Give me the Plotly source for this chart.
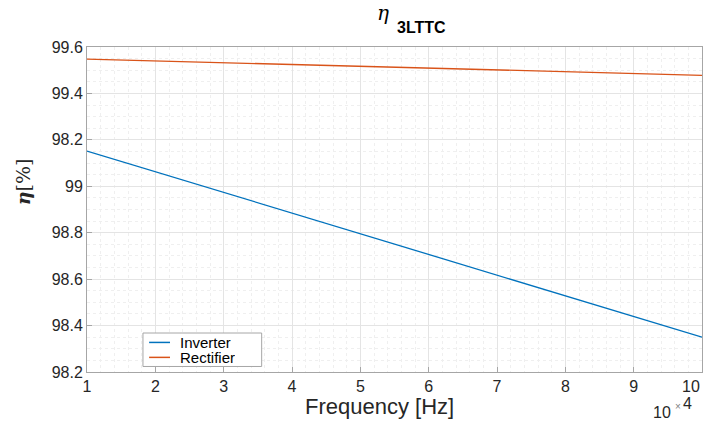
import plotly.graph_objects as go

# Switching frequency [Hz]
freq = [10000, 20000, 30000, 40000, 50000, 60000, 70000, 80000, 90000, 100000]
# Efficiency [%]
inverter = [99.152, 99.063, 98.974, 98.885, 98.796, 98.707, 98.618, 98.529, 98.440, 98.350]
rectifier = [99.548, 99.540, 99.532, 99.525, 99.517, 99.509, 99.501, 99.494, 99.486, 99.478]
series_names = ["Inverter", "Rectifier"]

x_tickvals = [10000 * k for k in range(1, 11)]
x_ticktext = [str(k) for k in range(1, 11)]
y_tickvals = [98.2, 98.4, 98.6, 98.8, 99.0, 99.2, 99.4, 99.6]
y_ticktext = ["98.2", "98.4", "98.6", "98.8", "99", "98.2", "99.4", "99.6"]

BLUE = "#0072BD"
ORANGE = "#D95319"
FONT = "Liberation Sans, Arial, sans-serif"
TXT = "#262626"
colors = [BLUE, ORANGE]

fig = go.Figure()
for name, ys, col in zip(series_names, [inverter, rectifier], colors):
    fig.add_trace(go.Scatter(x=freq, y=ys, mode="lines", name=name,
                             line=dict(color=col, width=1.3), showlegend=False))

axis_common = dict(
    showline=True, linecolor="#a6a6a6", linewidth=1, mirror=True,
    ticks="inside", ticklen=5, tickcolor="#a6a6a6",
    showgrid=True, gridcolor="#e4e4e4", gridwidth=1,
    zeroline=False,
    tickfont=dict(family=FONT, size=16, color=TXT),
)

# the last x label sits at the right edge; it is drawn right-aligned below
fig.update_xaxes(
    range=[10000, 100000], tickvals=x_tickvals,
    ticktext=x_ticktext[:-1] + [""],
    minor=dict(dtick=2000, showgrid=True, gridcolor="#efefef", griddash="dot", ticks=""),
    **axis_common,
)
fig.update_yaxes(
    range=[98.2, 99.6], tickvals=y_tickvals, ticktext=y_ticktext,
    minor=dict(dtick=0.05, showgrid=True, gridcolor="#efefef", griddash="dot", ticks=""),
    **axis_common,
)
fig.add_annotation(
    text=x_ticktext[-1], xref="x", yref="paper", x=x_tickvals[-1], y=0, yshift=-4,
    showarrow=False, font=dict(family=FONT, size=16, color=TXT),
    xanchor="right", yanchor="top",
)

# x-axis title
fig.add_annotation(
    text="Frequency [Hz]", xref="paper", yref="paper", x=0.475, y=0, yshift=-34,
    showarrow=False, font=dict(family=FONT, size=22, color=TXT),
    xanchor="center", yanchor="middle",
)
# y-axis title: italic eta followed by unit
fig.add_annotation(
    text="<b><i>η</i></b>[%]", xref="paper", yref="paper",
    x=-0.105, y=0.585, showarrow=False, textangle=-90,
    font=dict(family="DejaVu Serif, serif", size=19, color=TXT),
    xanchor="center", yanchor="middle",
)
# title: eta with bold subscript
fig.add_annotation(
    text="<i>η</i>", xref="paper", yref="paper", x=0.482, y=1.0, yshift=20,
    showarrow=False, font=dict(family="DejaVu Serif, serif", size=20, color="#000000"),
    xanchor="center", yanchor="bottom",
)
fig.add_annotation(
    text="<b>3LTTC</b>", xref="paper", yref="paper", x=0.500, y=1.0, yshift=9,
    showarrow=False, font=dict(family=FONT, size=16, color="#000000"),
    xanchor="left", yanchor="bottom",
)
# exponent label for the x axis
fig.add_annotation(
    text="10", xref="paper", yref="paper", x=0.951, y=0, yshift=-40,
    showarrow=False, font=dict(family=FONT, size=16, color=TXT),
    xanchor="right", yanchor="middle", borderpad=0,
)
fig.add_annotation(
    text="×", xref="paper", yref="paper", x=0.955, y=0, yshift=-34,
    showarrow=False, font=dict(family=FONT, size=10, color="#808080"),
    xanchor="left", yanchor="middle", borderpad=0,
)
fig.add_annotation(
    text="4", xref="paper", yref="paper", x=0.968, y=0, yshift=-31,
    showarrow=False, font=dict(family=FONT, size=16, color=TXT),
    xanchor="left", yanchor="middle", borderpad=0,
)

# compact legend box
fig.add_shape(type="rect", xref="paper", yref="paper",
              x0=0.091, x1=0.284, y0=0.017, y1=0.120,
              line=dict(color="#a6a6a6", width=1), fillcolor="white", layer="above")
legend_y = [0.091, 0.045]
for name, col, ly in zip(series_names, colors, legend_y):
    fig.add_shape(type="line", xref="paper", yref="paper",
                  x0=0.101, x1=0.135, y0=ly, y1=ly,
                  line=dict(color=col, width=1.5), layer="above")
    fig.add_annotation(text=name, xref="paper", yref="paper", x=0.150, y=ly,
                       showarrow=False, xanchor="left", yanchor="middle",
                       borderpad=0, height=15, valign="middle",
                       font=dict(family=FONT, size=15, color="#000000"))

fig.update_layout(
    width=707, height=426,
    margin=dict(l=87, r=5, t=47, b=54),
    paper_bgcolor="white", plot_bgcolor="white",
    showlegend=False,
)

fig.write_html("out.html")
